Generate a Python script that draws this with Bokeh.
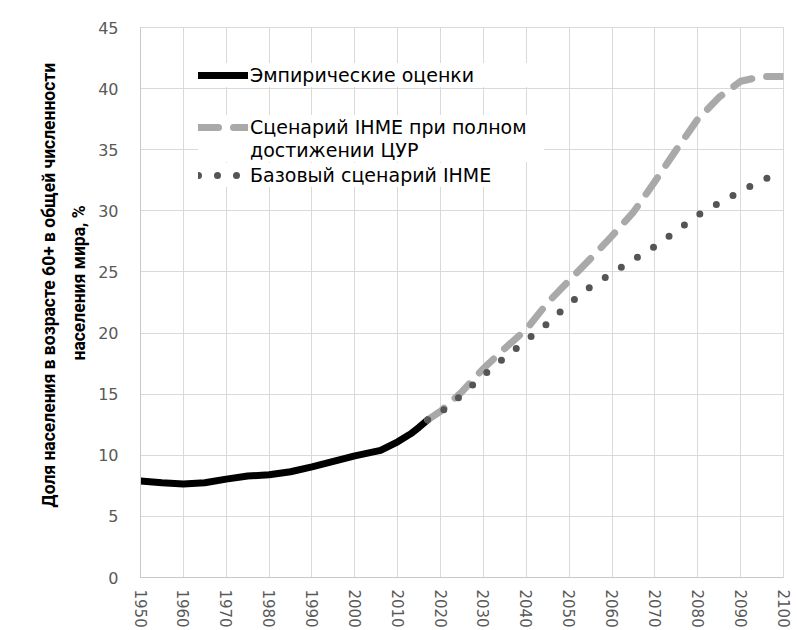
import math
from bokeh.plotting import figure
from bokeh.models import (ColumnDataSource, FixedTicker, Legend, LegendItem,
                          Range1d, Title)
from bokeh.embed import file_html
from bokeh.resources import INLINE

# ---------------- data ----------------
emp_years = [1950, 1955, 1960, 1965, 1970, 1975, 1980, 1985, 1990, 1995,
             2000, 2006, 2010, 2013, 2015, 2017]
emp_share = [7.9, 7.75, 7.65, 7.75, 8.05, 8.3, 8.4, 8.65, 9.05, 9.5,
             9.95, 10.4, 11.1, 11.75, 12.3, 12.9]

proj_years = [2017, 2020, 2025, 2030, 2035, 2040, 2045, 2050, 2055, 2060,
              2065, 2070, 2075, 2080, 2085, 2090, 2095, 2100]
sdg_share = [12.9, 13.6, 15.2, 17.1, 18.75, 20.3, 22.5, 24.3, 26.1, 27.95,
             29.9, 32.4, 35.0, 37.5, 39.3, 40.6, 41.0, 41.0]
ref_share = [12.9, 13.5, 14.95, 16.55, 18.0, 19.4, 20.8, 22.4, 23.8, 24.9,
             26.0, 27.1, 28.35, 29.65, 30.65, 31.6, 32.5, 33.2]

series_labels = ["Эмпирические оценки",
                 "Сценарий IHME при полном",
                 "достижении ЦУР",
                 "Базовый сценарий IHME"]
y_title_lines = ["Доля населения в возрасте  60+ в общей численности",
                 "населения мира, %"]
x_ticks = list(range(1950, 2101, 10))
y_ticks = list(range(0, 46, 5))

# ---------------- figure ----------------
p = figure(width=797, height=630, output_backend="svg", toolbar_location=None,
           x_range=Range1d(1950, 2100), y_range=Range1d(0, 45),
           min_border_left=140, min_border_right=14, min_border_top=27,
           min_border_bottom=53)
p.background_fill_color = "white"
p.border_fill_color = "white"
p.outline_line_color = "#d9d9d9"

grid_color = "#d9d9d9"
p.xgrid.grid_line_color = grid_color
p.ygrid.grid_line_color = grid_color
p.xgrid.ticker = FixedTicker(ticks=x_ticks)
p.ygrid.ticker = FixedTicker(ticks=y_ticks)

p.xaxis.ticker = FixedTicker(ticks=x_ticks)
p.yaxis.ticker = FixedTicker(ticks=y_ticks)
for ax in (p.xaxis[0], p.yaxis[0]):
    ax.axis_line_color = "#c8c8c8"
    ax.major_tick_line_color = None
    ax.minor_tick_line_color = None
    ax.major_tick_out = 0
    ax.major_tick_in = 0
    ax.major_label_text_color = "#595959"
    ax.major_label_text_font = "DejaVu Sans"
p.xaxis.major_label_text_font_size = "15px"
p.xaxis.major_label_orientation = -math.pi / 2
p.xaxis.major_label_standoff = 12
p.yaxis.major_label_text_font_size = "16px"
p.yaxis.major_label_standoff = 22

src_emp = ColumnDataSource(dict(x=emp_years, y=emp_share))
src_proj = ColumnDataSource(dict(x=proj_years, sdg=sdg_share, ref=ref_share))

r_emp = p.line("x", "y", source=src_emp, line_color="black", line_width=7,
               line_cap="round", line_join="round")
r_sdg = p.line("x", "sdg", source=src_proj, line_color="#a9a9a9", line_width=7,
               line_dash="20 15", line_cap="round", line_join="round")
r_ref = p.line("x", "ref", source=src_proj, line_color="#555555", line_width=7,
               line_dash="0 19", line_cap="round", line_join="round")
r_blank = p.line(x=[], y=[], line_alpha=0)

# ---------------- legend (one block per text row) ----------------
def make_legend(label, renderer, loc, pad, lw):
    return Legend(items=[LegendItem(label=label, renderers=[renderer])],
                  location=loc, padding=pad, margin=0, spacing=0,
                  glyph_width=50, glyph_height=24, label_height=24,
                  label_width=lw, label_standoff=2,
                  label_text_font="DejaVu Sans", label_text_font_size="19px",
                  label_text_color="black",
                  background_fill_color="white", background_fill_alpha=1.0,
                  border_line_color=None)

lg3 = make_legend(series_labels[3], r_ref, (58, 390), 25, 269)
lg1 = make_legend(series_labels[0], r_emp, (58, 490), 15, 279)
lg2 = make_legend(series_labels[1], r_sdg, (58, 438), 15, 279)
lg2b = make_legend(series_labels[2], r_blank, (58, 415), 0, 294)
for lg in (lg3, lg1, lg2, lg2b):
    p.add_layout(lg, "center")

# ---------------- y-axis title (two rotated lines) ----------------
# leading no-break spaces lift the centred lines to sit like the original
lift = "\u00a0" * 9
t_inner = Title(text=lift + y_title_lines[1], align="center", standoff=13,
                text_font="Roboto", text_font_style="bold",
                text_font_size="17.5px", text_color="black")
t_outer = Title(text=lift + y_title_lines[0], align="center", standoff=4,
                text_font="Roboto", text_font_style="bold",
                text_font_size="17.5px", text_color="black")
p.add_layout(t_inner, "left")
p.add_layout(t_outer, "left")

open("out.html", "w").write(file_html(p, INLINE))
